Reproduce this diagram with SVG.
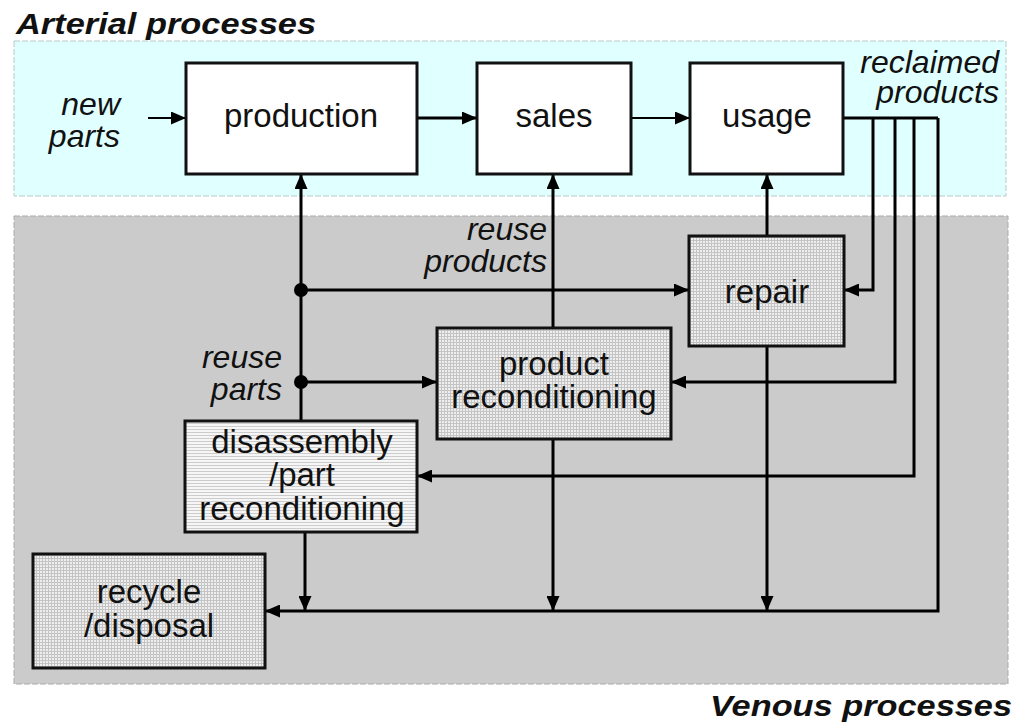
<svg xmlns="http://www.w3.org/2000/svg" width="1016" height="724" viewBox="0 0 1016 724">
<defs>
<style>
.t{font-family:"Liberation Sans",Arial,sans-serif;font-size:33px;fill:#111}
.i{font-style:italic;font-size:32px}
.ttl{font-family:"Liberation Sans",Arial,sans-serif;font-size:30px;font-weight:bold;font-style:italic;fill:#111}
.box{stroke:#111;stroke-width:3}
.ln{fill:none;stroke:#000;stroke-width:3}
.thin{fill:none;stroke:#000;stroke-width:2}
</style>
<pattern id="grid" width="3" height="3" patternUnits="userSpaceOnUse">
<rect width="3" height="3" fill="#eeeeee"/>
<rect width="3" height="1" fill="#c4c4c4"/>
<rect width="1" height="3" fill="#c4c4c4"/>
</pattern>
<pattern id="hl" width="3" height="3" patternUnits="userSpaceOnUse">
<rect width="3" height="3" fill="#f6f6f6"/>
<rect width="3" height="1" fill="#cccccc"/>
</pattern>
<marker id="ah" viewBox="0 0 15 13" refX="15" refY="6.5" markerWidth="15" markerHeight="13" markerUnits="userSpaceOnUse" orient="auto">
<path d="M0,0L15,6.5L0,13z" fill="#000"/>
</marker>
</defs>

<g id="panels">
<rect x="14" y="41" width="992" height="155" fill="#e0ffff" stroke="#b8c8c8" stroke-width="1" stroke-dasharray="6 2"/>
<rect x="14" y="216" width="994" height="468" fill="#cbcbcb" stroke="#aaaaaa" stroke-width="1" stroke-dasharray="6 2"/>
<text class="ttl" x="16" y="34" textLength="300" lengthAdjust="spacingAndGlyphs">Arterial processes</text>
<text class="ttl" x="1012" y="716" text-anchor="end" textLength="302" lengthAdjust="spacingAndGlyphs">Venous processes</text>
</g>

<g id="connectors">
<line class="thin" x1="148" y1="118" x2="186" y2="118" marker-end="url(#ah)"/>
<line class="ln" x1="417" y1="118" x2="477" y2="118" marker-end="url(#ah)"/>
<line class="thin" x1="631" y1="118" x2="690" y2="118" marker-end="url(#ah)"/>
<line class="ln" x1="843" y1="118" x2="895" y2="118"/>
<line class="ln" x1="895" y1="118" x2="938" y2="118"/>
<polyline class="ln" points="873,118 873,290 844,290" marker-end="url(#ah)"/>
<polyline class="ln" points="895,118 895,382 671,382" marker-end="url(#ah)"/>
<polyline class="ln" points="914,118 914,476 417,476" marker-end="url(#ah)"/>
<polyline class="ln" points="938,118 938,611 265,611" marker-end="url(#ah)"/>
<line class="ln" x1="301" y1="421" x2="301" y2="174" marker-end="url(#ah)"/>
<line class="ln" x1="301" y1="290" x2="689" y2="290" marker-end="url(#ah)"/>
<line class="ln" x1="301" y1="382" x2="437" y2="382" marker-end="url(#ah)"/>
<line class="ln" x1="553" y1="328" x2="553" y2="174" marker-end="url(#ah)"/>
<line class="ln" x1="767" y1="236" x2="767" y2="174" marker-end="url(#ah)"/>
<line class="ln" x1="305" y1="532" x2="305" y2="611" marker-end="url(#ah)"/>
<line class="ln" x1="553" y1="439" x2="553" y2="611" marker-end="url(#ah)"/>
<line class="ln" x1="767" y1="346" x2="767" y2="611" marker-end="url(#ah)"/>
<circle cx="301" cy="290" r="7" fill="#000"/>
<circle cx="301" cy="382" r="7" fill="#000"/>
</g>

<g id="labels">
<text class="t i" text-anchor="end" x="120" y="115">new</text>
<text class="t i" text-anchor="end" x="120" y="147">parts</text>
<text class="t i" text-anchor="end" x="999" y="73">reclaimed</text>
<text class="t i" text-anchor="end" x="999" y="103">products</text>
<text class="t i" text-anchor="end" x="547" y="240">reuse</text>
<text class="t i" text-anchor="end" x="547" y="272">products</text>
<text class="t i" text-anchor="end" x="282" y="368">reuse</text>
<text class="t i" text-anchor="end" x="282" y="400">parts</text>
</g>

<g id="production">
<rect class="box" x="186" y="63" width="231" height="111" fill="#fff"/>
<text class="t" x="301" y="127" text-anchor="middle">production</text>
</g>
<g id="sales">
<rect class="box" x="477" y="63" width="154" height="111" fill="#fff"/>
<text class="t" x="554" y="127" text-anchor="middle">sales</text>
</g>
<g id="usage">
<rect class="box" x="690" y="63" width="153" height="111" fill="#fff"/>
<text class="t" x="767" y="127" text-anchor="middle">usage</text>
</g>
<g id="repair">
<rect class="box" x="689" y="236" width="155" height="110" fill="url(#grid)"/>
<text class="t" x="767" y="303" text-anchor="middle">repair</text>
</g>
<g id="product-reconditioning">
<rect class="box" x="437" y="328" width="234" height="111" fill="url(#grid)"/>
<text class="t" x="554" y="375" text-anchor="middle">product</text>
<text class="t" x="554" y="408" text-anchor="middle">reconditioning</text>
</g>
<g id="disassembly">
<rect class="box" x="185" y="421" width="232" height="111" fill="url(#hl)"/>
<text class="t" x="302" y="453" text-anchor="middle">disassembly</text>
<text class="t" x="302" y="486" text-anchor="middle">/part</text>
<text class="t" x="302" y="520" text-anchor="middle">reconditioning</text>
</g>
<g id="recycle">
<rect class="box" x="33" y="554" width="232" height="114" fill="url(#grid)"/>
<text class="t" x="149" y="603" text-anchor="middle">recycle</text>
<text class="t" x="149" y="637" text-anchor="middle">/disposal</text>
</g>
</svg>
